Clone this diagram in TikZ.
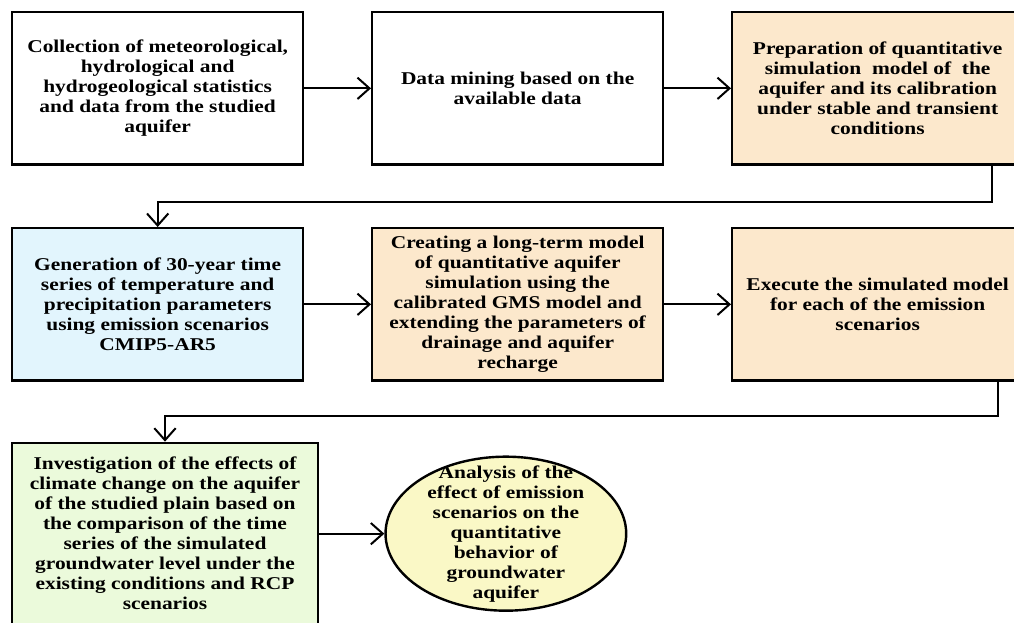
\documentclass[tikz,border=0pt]{standalone}
\usepackage{fontspec}
\setmainfont[FakeStretch=1.19]{Liberation Serif}
\usepackage{xcolor}
\usetikzlibrary{arrows.meta,positioning,shapes.geometric}
\definecolor{beige}{HTML}{FCE8CC}
\definecolor{skyfill}{HTML}{E2F5FD}
\definecolor{mintfill}{HTML}{EBFADB}
\definecolor{lemon}{HTML}{FAF8C6}

\begin{document}
\begin{tikzpicture}[x=0.75pt,y=-0.75pt,
  node distance=46pt and 50pt,
  box/.style={draw,line width=1.8pt,align=center,inner sep=4pt,
              minimum width=218.2pt,minimum height=114.2pt,
              font=\fontsize{13.5}{15}\selectfont\bfseries},
  ar/.style={-{Straight Barb[length=9pt,width=16pt,line width=1.5pt]},line width=1.5pt}]
\useasboundingbox (0,0) rectangle (1014,622);
\node[box,anchor=north west] (coll) at (11,11)
  {Collection of meteorological,\\hydrological and\\hydrogeological statistics\\and data from the studied\\aquifer};
\node[box,right=of coll] (mine) {Data mining based on the\\available data};
\node[box,fill=beige,right=of mine] (prep)
  {Preparation of quantitative\\simulation\ \ model of\ \ the\\aquifer and its calibration\\under stable and transient\\conditions};
\node[box,fill=skyfill,below=of coll] (gen)
  {Generation of 30-year time\\series of temperature and\\precipitation parameters\\using emission scenarios\\CMIP5-AR5};
\node[box,fill=beige,right=of gen] (long)
  {Creating a long-term model\\of quantitative aquifer\\simulation using the\\calibrated GMS model and\\extending the parameters of\\drainage and aquifer\\recharge};
\node[box,fill=beige,right=of long] (exe)
  {Execute the simulated model\\for each of the emission\\scenarios};
\node[box,fill=mintfill,minimum width=229.2pt,minimum height=136.2pt,
      below=45pt of gen.south west,anchor=north west] (inv)
  {Investigation of the effects of\\climate change on the aquifer\\of the studied plain based on\\the comparison of the time\\series of the simulated\\groundwater level under the\\existing conditions and RCP\\scenarios};
\node[ellipse,draw,line width=1.8pt,fill=lemon,inner xsep=0pt,inner ysep=-11pt,align=center,
      minimum width=180.5pt,minimum height=115.5pt,
      font=\fontsize{13.5}{15}\selectfont\bfseries,right=49pt of inv] (ana)
  {Analysis of the\\effect of emission\\scenarios on the\\quantitative\\behavior of\\groundwater\\aquifer};
\draw[ar] (coll)--(mine);
\draw[ar] (mine)--(prep);
\draw[ar] ([xshift=-24pt]prep.south east)--++(0,-27pt)-|(gen.north);
\draw[ar] (gen)--(long);
\draw[ar] (long)--(exe);
\draw[ar] ([xshift=-19.5pt]exe.south east)--++(0,-25.5pt)-|(inv.north);
\draw[ar] (inv)--(ana);
\end{tikzpicture}
\end{document}
